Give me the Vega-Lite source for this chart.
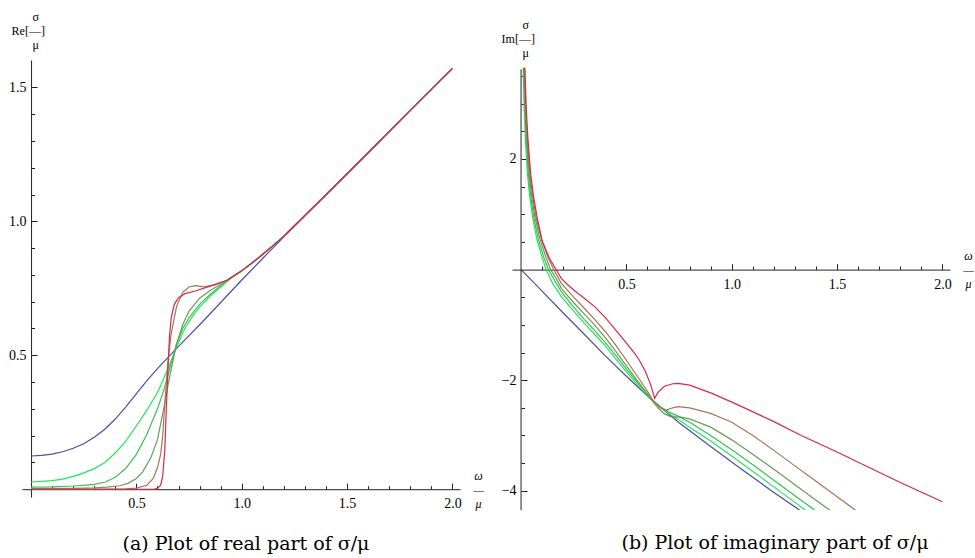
{
  "$schema": "https://vega.github.io/schema/vega-lite/v6.json",
  "background": "white",
  "padding": {"left": 8, "top": 10, "right": 0, "bottom": 0},
  "bounds": "flush",
  "spacing": 52,
  "config": {
    "view": {"stroke": null},
    "font": "Liberation Serif",
    "axis": {
      "labelFont": "Liberation Serif", "labelFontSize": 14, "labelColor": "#000",
      "domainColor": "#222", "tickColor": "#222", "grid": false,
      "titleFont": "Liberation Serif", "titleFontSize": 12, "titleFontWeight": "normal", "titleColor": "#000",
      "labelFlush": false, "labelOverlap": false
    }
  },
  "datasets": {
    "re": [
      {"curve": "c1", "w": 0, "v": 0.124}, {"curve": "c1", "w": 0.05, "v": 0.126}, {"curve": "c1", "w": 0.1, "v": 0.131}, {"curve": "c1", "w": 0.15, "v": 0.14}, {"curve": "c1", "w": 0.2, "v": 0.153}, {"curve": "c1", "w": 0.25, "v": 0.17}, {"curve": "c1", "w": 0.3, "v": 0.194}, {"curve": "c1", "w": 0.35, "v": 0.224}, {"curve": "c1", "w": 0.4, "v": 0.262}, {"curve": "c1", "w": 0.45, "v": 0.307}, {"curve": "c1", "w": 0.5, "v": 0.357}, {"curve": "c1", "w": 0.55, "v": 0.405}, {"curve": "c1", "w": 0.6, "v": 0.45}, {"curve": "c1", "w": 0.65, "v": 0.492}, {"curve": "c1", "w": 0.7, "v": 0.533}, {"curve": "c1", "w": 0.75, "v": 0.573}, {"curve": "c1", "w": 0.8, "v": 0.614}, {"curve": "c1", "w": 0.85, "v": 0.655}, {"curve": "c1", "w": 0.9, "v": 0.697}, {"curve": "c1", "w": 0.95, "v": 0.739}, {"curve": "c1", "w": 1.0, "v": 0.781}, {"curve": "c1", "w": 1.1, "v": 0.862}, {"curve": "c1", "w": 1.2, "v": 0.942}, {"curve": "c1", "w": 1.4, "v": 1.099}, {"curve": "c1", "w": 1.6, "v": 1.256}, {"curve": "c1", "w": 1.8, "v": 1.414}, {"curve": "c1", "w": 2.0, "v": 1.571},
      {"curve": "c2", "w": 0, "v": 0.027}, {"curve": "c2", "w": 0.05, "v": 0.029}, {"curve": "c2", "w": 0.1, "v": 0.032}, {"curve": "c2", "w": 0.15, "v": 0.038}, {"curve": "c2", "w": 0.2, "v": 0.048}, {"curve": "c2", "w": 0.25, "v": 0.061}, {"curve": "c2", "w": 0.3, "v": 0.077}, {"curve": "c2", "w": 0.35, "v": 0.1}, {"curve": "c2", "w": 0.4, "v": 0.135}, {"curve": "c2", "w": 0.45, "v": 0.18}, {"curve": "c2", "w": 0.5, "v": 0.237}, {"curve": "c2", "w": 0.55, "v": 0.295}, {"curve": "c2", "w": 0.6, "v": 0.36}, {"curve": "c2", "w": 0.65, "v": 0.45}, {"curve": "c2", "w": 0.69, "v": 0.53}, {"curve": "c2", "w": 0.73, "v": 0.6}, {"curve": "c2", "w": 0.77, "v": 0.65}, {"curve": "c2", "w": 0.8, "v": 0.68}, {"curve": "c2", "w": 0.85, "v": 0.72}, {"curve": "c2", "w": 0.9, "v": 0.755}, {"curve": "c2", "w": 0.95, "v": 0.787}, {"curve": "c2", "w": 1.0, "v": 0.815}, {"curve": "c2", "w": 1.05, "v": 0.845}, {"curve": "c2", "w": 1.1, "v": 0.877}, {"curve": "c2", "w": 1.15, "v": 0.91}, {"curve": "c2", "w": 1.2, "v": 0.944}, {"curve": "c2", "w": 1.4, "v": 1.099}, {"curve": "c2", "w": 1.6, "v": 1.256}, {"curve": "c2", "w": 1.8, "v": 1.414}, {"curve": "c2", "w": 2.0, "v": 1.571},
      {"curve": "c3", "w": 0, "v": 0.008}, {"curve": "c3", "w": 0.1, "v": 0.009}, {"curve": "c3", "w": 0.2, "v": 0.012}, {"curve": "c3", "w": 0.26, "v": 0.015}, {"curve": "c3", "w": 0.3, "v": 0.018}, {"curve": "c3", "w": 0.35, "v": 0.026}, {"curve": "c3", "w": 0.4, "v": 0.045}, {"curve": "c3", "w": 0.45, "v": 0.078}, {"curve": "c3", "w": 0.5, "v": 0.13}, {"curve": "c3", "w": 0.55, "v": 0.205}, {"curve": "c3", "w": 0.6, "v": 0.3}, {"curve": "c3", "w": 0.63, "v": 0.37}, {"curve": "c3", "w": 0.66, "v": 0.455}, {"curve": "c3", "w": 0.69, "v": 0.54}, {"curve": "c3", "w": 0.72, "v": 0.6}, {"curve": "c3", "w": 0.75, "v": 0.64}, {"curve": "c3", "w": 0.8, "v": 0.69}, {"curve": "c3", "w": 0.85, "v": 0.727}, {"curve": "c3", "w": 0.9, "v": 0.76}, {"curve": "c3", "w": 0.95, "v": 0.79}, {"curve": "c3", "w": 1.0, "v": 0.815}, {"curve": "c3", "w": 1.05, "v": 0.845}, {"curve": "c3", "w": 1.1, "v": 0.877}, {"curve": "c3", "w": 1.15, "v": 0.91}, {"curve": "c3", "w": 1.2, "v": 0.944}, {"curve": "c3", "w": 1.4, "v": 1.099}, {"curve": "c3", "w": 1.6, "v": 1.256}, {"curve": "c3", "w": 1.8, "v": 1.414}, {"curve": "c3", "w": 2.0, "v": 1.571},
      {"curve": "c4", "w": 0, "v": 0.002}, {"curve": "c4", "w": 0.2, "v": 0.003}, {"curve": "c4", "w": 0.3, "v": 0.005}, {"curve": "c4", "w": 0.36, "v": 0.008}, {"curve": "c4", "w": 0.42, "v": 0.013}, {"curve": "c4", "w": 0.46, "v": 0.022}, {"curve": "c4", "w": 0.5, "v": 0.04}, {"curve": "c4", "w": 0.53, "v": 0.065}, {"curve": "c4", "w": 0.57, "v": 0.12}, {"curve": "c4", "w": 0.6, "v": 0.185}, {"curve": "c4", "w": 0.627, "v": 0.29}, {"curve": "c4", "w": 0.66, "v": 0.43}, {"curve": "c4", "w": 0.69, "v": 0.54}, {"curve": "c4", "w": 0.72, "v": 0.615}, {"curve": "c4", "w": 0.75, "v": 0.665}, {"curve": "c4", "w": 0.8, "v": 0.713}, {"curve": "c4", "w": 0.85, "v": 0.742}, {"curve": "c4", "w": 0.9, "v": 0.765}, {"curve": "c4", "w": 0.95, "v": 0.79}, {"curve": "c4", "w": 1.0, "v": 0.815}, {"curve": "c4", "w": 1.05, "v": 0.845}, {"curve": "c4", "w": 1.1, "v": 0.877}, {"curve": "c4", "w": 1.15, "v": 0.91}, {"curve": "c4", "w": 1.2, "v": 0.944}, {"curve": "c4", "w": 1.4, "v": 1.099}, {"curve": "c4", "w": 1.6, "v": 1.256}, {"curve": "c4", "w": 1.8, "v": 1.414}, {"curve": "c4", "w": 2.0, "v": 1.571},
      {"curve": "c5", "w": 0, "v": 0}, {"curve": "c5", "w": 0.45, "v": 0.001}, {"curve": "c5", "w": 0.5, "v": 0.004}, {"curve": "c5", "w": 0.55, "v": 0.015}, {"curve": "c5", "w": 0.58, "v": 0.04}, {"curve": "c5", "w": 0.6, "v": 0.08}, {"curve": "c5", "w": 0.615, "v": 0.13}, {"curve": "c5", "w": 0.625, "v": 0.2}, {"curve": "c5", "w": 0.636, "v": 0.333}, {"curve": "c5", "w": 0.65, "v": 0.48}, {"curve": "c5", "w": 0.665, "v": 0.58}, {"curve": "c5", "w": 0.69, "v": 0.68}, {"curve": "c5", "w": 0.72, "v": 0.735}, {"curve": "c5", "w": 0.75, "v": 0.755}, {"curve": "c5", "w": 0.78, "v": 0.76}, {"curve": "c5", "w": 0.82, "v": 0.755}, {"curve": "c5", "w": 0.87, "v": 0.762}, {"curve": "c5", "w": 0.93, "v": 0.78}, {"curve": "c5", "w": 1.0, "v": 0.815}, {"curve": "c5", "w": 1.05, "v": 0.845}, {"curve": "c5", "w": 1.1, "v": 0.877}, {"curve": "c5", "w": 1.15, "v": 0.91}, {"curve": "c5", "w": 1.2, "v": 0.944}, {"curve": "c5", "w": 1.4, "v": 1.099}, {"curve": "c5", "w": 1.6, "v": 1.256}, {"curve": "c5", "w": 1.8, "v": 1.414}, {"curve": "c5", "w": 2.0, "v": 1.571},
      {"curve": "c6", "w": 0, "v": 0}, {"curve": "c6", "w": 0.58, "v": 0}, {"curve": "c6", "w": 0.6, "v": 0.003}, {"curve": "c6", "w": 0.615, "v": 0.015}, {"curve": "c6", "w": 0.625, "v": 0.05}, {"curve": "c6", "w": 0.635, "v": 0.15}, {"curve": "c6", "w": 0.642, "v": 0.3}, {"curve": "c6", "w": 0.65, "v": 0.45}, {"curve": "c6", "w": 0.657, "v": 0.57}, {"curve": "c6", "w": 0.665, "v": 0.64}, {"curve": "c6", "w": 0.68, "v": 0.69}, {"curve": "c6", "w": 0.7, "v": 0.715}, {"curve": "c6", "w": 0.73, "v": 0.73}, {"curve": "c6", "w": 0.78, "v": 0.74}, {"curve": "c6", "w": 0.85, "v": 0.758}, {"curve": "c6", "w": 0.93, "v": 0.78}, {"curve": "c6", "w": 1.0, "v": 0.815}, {"curve": "c6", "w": 1.05, "v": 0.845}, {"curve": "c6", "w": 1.1, "v": 0.877}, {"curve": "c6", "w": 1.15, "v": 0.91}, {"curve": "c6", "w": 1.2, "v": 0.944}, {"curve": "c6", "w": 1.4, "v": 1.099}, {"curve": "c6", "w": 1.6, "v": 1.256}, {"curve": "c6", "w": 1.8, "v": 1.414}, {"curve": "c6", "w": 2.0, "v": 1.571}
    ],
    "im": [
      {"curve": "c1", "w": 0, "v": 0}, {"curve": "c1", "w": 0.1, "v": -0.39}, {"curve": "c1", "w": 0.191, "v": -0.75}, {"curve": "c1", "w": 0.3, "v": -1.17}, {"curve": "c1", "w": 0.4, "v": -1.56}, {"curve": "c1", "w": 0.5, "v": -1.93}, {"curve": "c1", "w": 0.618, "v": -2.35}, {"curve": "c1", "w": 0.75, "v": -2.77}, {"curve": "c1", "w": 0.9, "v": -3.2}, {"curve": "c1", "w": 1.05, "v": -3.62}, {"curve": "c1", "w": 1.2, "v": -4.03}, {"curve": "c1", "w": 1.322, "v": -4.35},
      {"curve": "c2", "w": 0.01, "v": 3.65}, {"curve": "c2", "w": 0.015, "v": 2.9}, {"curve": "c2", "w": 0.02, "v": 2.4}, {"curve": "c2", "w": 0.03, "v": 1.75}, {"curve": "c2", "w": 0.04, "v": 1.35}, {"curve": "c2", "w": 0.055, "v": 0.95}, {"curve": "c2", "w": 0.075, "v": 0.55}, {"curve": "c2", "w": 0.1, "v": 0.22}, {"curve": "c2", "w": 0.119, "v": 0.0}, {"curve": "c2", "w": 0.15, "v": -0.25}, {"curve": "c2", "w": 0.191, "v": -0.49}, {"curve": "c2", "w": 0.25, "v": -0.75}, {"curve": "c2", "w": 0.3, "v": -0.97}, {"curve": "c2", "w": 0.349, "v": -1.17}, {"curve": "c2", "w": 0.4, "v": -1.38}, {"curve": "c2", "w": 0.45, "v": -1.62}, {"curve": "c2", "w": 0.5, "v": -1.85}, {"curve": "c2", "w": 0.55, "v": -2.07}, {"curve": "c2", "w": 0.6, "v": -2.28}, {"curve": "c2", "w": 0.62, "v": -2.36}, {"curve": "c2", "w": 0.65, "v": -2.45}, {"curve": "c2", "w": 0.7, "v": -2.6}, {"curve": "c2", "w": 0.75, "v": -2.72}, {"curve": "c2", "w": 0.8, "v": -2.85}, {"curve": "c2", "w": 0.9, "v": -3.1}, {"curve": "c2", "w": 1.0, "v": -3.37}, {"curve": "c2", "w": 1.1, "v": -3.65}, {"curve": "c2", "w": 1.2, "v": -3.93}, {"curve": "c2", "w": 1.3, "v": -4.21}, {"curve": "c2", "w": 1.349, "v": -4.35},
      {"curve": "c3", "w": 0.012, "v": 3.65}, {"curve": "c3", "w": 0.018, "v": 2.9}, {"curve": "c3", "w": 0.024, "v": 2.4}, {"curve": "c3", "w": 0.034, "v": 1.75}, {"curve": "c3", "w": 0.045, "v": 1.35}, {"curve": "c3", "w": 0.06, "v": 0.95}, {"curve": "c3", "w": 0.082, "v": 0.55}, {"curve": "c3", "w": 0.108, "v": 0.22}, {"curve": "c3", "w": 0.13, "v": 0.0}, {"curve": "c3", "w": 0.16, "v": -0.2}, {"curve": "c3", "w": 0.191, "v": -0.4}, {"curve": "c3", "w": 0.25, "v": -0.68}, {"curve": "c3", "w": 0.3, "v": -0.9}, {"curve": "c3", "w": 0.349, "v": -1.1}, {"curve": "c3", "w": 0.4, "v": -1.32}, {"curve": "c3", "w": 0.46, "v": -1.6}, {"curve": "c3", "w": 0.5, "v": -1.8}, {"curve": "c3", "w": 0.55, "v": -2.03}, {"curve": "c3", "w": 0.6, "v": -2.25}, {"curve": "c3", "w": 0.63, "v": -2.38}, {"curve": "c3", "w": 0.66, "v": -2.48}, {"curve": "c3", "w": 0.7, "v": -2.57}, {"curve": "c3", "w": 0.75, "v": -2.66}, {"curve": "c3", "w": 0.8, "v": -2.76}, {"curve": "c3", "w": 0.9, "v": -3.0}, {"curve": "c3", "w": 1.0, "v": -3.26}, {"curve": "c3", "w": 1.1, "v": -3.53}, {"curve": "c3", "w": 1.2, "v": -3.81}, {"curve": "c3", "w": 1.3, "v": -4.09}, {"curve": "c3", "w": 1.393, "v": -4.35},
      {"curve": "c4", "w": 0.014, "v": 3.65}, {"curve": "c4", "w": 0.02, "v": 2.9}, {"curve": "c4", "w": 0.027, "v": 2.4}, {"curve": "c4", "w": 0.038, "v": 1.75}, {"curve": "c4", "w": 0.05, "v": 1.35}, {"curve": "c4", "w": 0.066, "v": 0.95}, {"curve": "c4", "w": 0.09, "v": 0.55}, {"curve": "c4", "w": 0.118, "v": 0.22}, {"curve": "c4", "w": 0.14, "v": 0.0}, {"curve": "c4", "w": 0.17, "v": -0.18}, {"curve": "c4", "w": 0.191, "v": -0.34}, {"curve": "c4", "w": 0.25, "v": -0.6}, {"curve": "c4", "w": 0.3, "v": -0.8}, {"curve": "c4", "w": 0.349, "v": -1.0}, {"curve": "c4", "w": 0.4, "v": -1.23}, {"curve": "c4", "w": 0.45, "v": -1.48}, {"curve": "c4", "w": 0.5, "v": -1.74}, {"curve": "c4", "w": 0.55, "v": -2.0}, {"curve": "c4", "w": 0.59, "v": -2.2}, {"curve": "c4", "w": 0.62, "v": -2.36}, {"curve": "c4", "w": 0.65, "v": -2.5}, {"curve": "c4", "w": 0.68, "v": -2.61}, {"curve": "c4", "w": 0.71, "v": -2.66}, {"curve": "c4", "w": 0.76, "v": -2.67}, {"curve": "c4", "w": 0.8, "v": -2.7}, {"curve": "c4", "w": 0.9, "v": -2.85}, {"curve": "c4", "w": 1.0, "v": -3.08}, {"curve": "c4", "w": 1.1, "v": -3.34}, {"curve": "c4", "w": 1.2, "v": -3.61}, {"curve": "c4", "w": 1.3, "v": -3.89}, {"curve": "c4", "w": 1.4, "v": -4.17}, {"curve": "c4", "w": 1.465, "v": -4.35},
      {"curve": "c5", "w": 0.016, "v": 3.65}, {"curve": "c5", "w": 0.022, "v": 2.9}, {"curve": "c5", "w": 0.029, "v": 2.4}, {"curve": "c5", "w": 0.041, "v": 1.75}, {"curve": "c5", "w": 0.054, "v": 1.35}, {"curve": "c5", "w": 0.071, "v": 0.95}, {"curve": "c5", "w": 0.097, "v": 0.55}, {"curve": "c5", "w": 0.128, "v": 0.22}, {"curve": "c5", "w": 0.155, "v": 0.0}, {"curve": "c5", "w": 0.191, "v": -0.25}, {"curve": "c5", "w": 0.25, "v": -0.5}, {"curve": "c5", "w": 0.3, "v": -0.7}, {"curve": "c5", "w": 0.349, "v": -0.9}, {"curve": "c5", "w": 0.4, "v": -1.12}, {"curve": "c5", "w": 0.45, "v": -1.37}, {"curve": "c5", "w": 0.5, "v": -1.64}, {"curve": "c5", "w": 0.55, "v": -1.92}, {"curve": "c5", "w": 0.6, "v": -2.2}, {"curve": "c5", "w": 0.625, "v": -2.36}, {"curve": "c5", "w": 0.66, "v": -2.5}, {"curve": "c5", "w": 0.69, "v": -2.54}, {"curve": "c5", "w": 0.72, "v": -2.5}, {"curve": "c5", "w": 0.745, "v": -2.48}, {"curve": "c5", "w": 0.8, "v": -2.5}, {"curve": "c5", "w": 0.9, "v": -2.6}, {"curve": "c5", "w": 1.0, "v": -2.76}, {"curve": "c5", "w": 1.1, "v": -3.0}, {"curve": "c5", "w": 1.2, "v": -3.27}, {"curve": "c5", "w": 1.3, "v": -3.55}, {"curve": "c5", "w": 1.4, "v": -3.83}, {"curve": "c5", "w": 1.5, "v": -4.11}, {"curve": "c5", "w": 1.587, "v": -4.35},
      {"curve": "c6", "w": 0.018, "v": 3.65}, {"curve": "c6", "w": 0.025, "v": 2.9}, {"curve": "c6", "w": 0.032, "v": 2.4}, {"curve": "c6", "w": 0.045, "v": 1.75}, {"curve": "c6", "w": 0.058, "v": 1.35}, {"curve": "c6", "w": 0.076, "v": 0.95}, {"curve": "c6", "w": 0.1, "v": 0.52}, {"curve": "c6", "w": 0.135, "v": 0.2}, {"curve": "c6", "w": 0.166, "v": 0.0}, {"curve": "c6", "w": 0.191, "v": -0.16}, {"curve": "c6", "w": 0.22, "v": -0.27}, {"curve": "c6", "w": 0.25, "v": -0.37}, {"curve": "c6", "w": 0.3, "v": -0.52}, {"curve": "c6", "w": 0.349, "v": -0.67}, {"curve": "c6", "w": 0.4, "v": -0.87}, {"curve": "c6", "w": 0.429, "v": -1.0}, {"curve": "c6", "w": 0.47, "v": -1.19}, {"curve": "c6", "w": 0.508, "v": -1.365}, {"curve": "c6", "w": 0.54, "v": -1.52}, {"curve": "c6", "w": 0.56, "v": -1.63}, {"curve": "c6", "w": 0.59, "v": -1.84}, {"curve": "c6", "w": 0.615, "v": -2.08}, {"curve": "c6", "w": 0.634, "v": -2.33}, {"curve": "c6", "w": 0.65, "v": -2.22}, {"curve": "c6", "w": 0.68, "v": -2.11}, {"curve": "c6", "w": 0.72, "v": -2.065}, {"curve": "c6", "w": 0.745, "v": -2.058}, {"curve": "c6", "w": 0.8, "v": -2.09}, {"curve": "c6", "w": 0.906, "v": -2.24}, {"curve": "c6", "w": 1.014, "v": -2.42}, {"curve": "c6", "w": 1.2, "v": -2.75}, {"curve": "c6", "w": 1.33, "v": -3.0}, {"curve": "c6", "w": 1.5, "v": -3.3}, {"curve": "c6", "w": 1.647, "v": -3.57}, {"curve": "c6", "w": 1.8, "v": -3.85}, {"curve": "c6", "w": 2.0, "v": -4.2}
    ]
  },
  "hconcat": [
    {
      "width": 438,
      "height": 437,
      "data": {"name": "re"},
      "title": {"text": "(a) Plot of real part of σ/μ", "orient": "bottom", "font": "DejaVu Serif", "fontSize": 19, "fontWeight": "normal", "color": "#000", "offset": 25, "dx": 5},
      "layer": [
        {
          "mark": {"type": "line", "strokeWidth": 1.2, "clip": true},
          "encoding": {
            "x": {"field": "w", "type": "quantitative", "scale": {"domain": [-0.043, 2.036], "nice": false, "zero": false},
                  "axis": {"orient": "bottom", "offset": -7.8, "values": [0.5, 1, 1.5, 2], "format": ".1f", "tickSize": -6, "labelPadding": 13, "labelFont": "Liberation Serif", "labelFontSize": 14,
                           "title": ["ω", "—", "μ"], "titleX": 456, "titleY": -14, "titleAlign": "center", "titleBaseline": "middle", "titleAngle": 0, "titleLineHeight": 14, "titleFontStyle": "italic"}},
            "y": {"field": "v", "type": "quantitative", "scale": {"domain": [-0.029, 1.602], "nice": false, "zero": false},
                  "axis": {"orient": "left", "offset": -9.06, "values": [0.5, 1, 1.5], "format": ".1f", "tickSize": -6, "labelPadding": 11, "labelFont": "Liberation Serif", "labelFontSize": 14,
                           "title": ["\u200b\u00a0\u00a0\u00a0\u00a0\u00a0\u00a0\u00a0σ", "Re[—]", "\u200b\u00a0\u00a0\u00a0\u00a0\u00a0\u00a0\u00a0μ"], "titleX": -20, "titleY": -44, "titleAlign": "left", "titleBaseline": "middle", "titleAngle": 0, "titleLineHeight": 14}},
            "color": {"field": "curve", "type": "nominal", "scale": {"domain": ["c1", "c2", "c3", "c4", "c5", "c6"], "range": ["#4d4da8", "#1ee85a", "#3cbf55", "#6e9a55", "#a5755a", "#d42a50"]}, "legend": null}
          }
        },
        {
          "mark": {"type": "point", "opacity": 0},
          "encoding": {
            "x": {"datum": 0, "type": "quantitative", "scale": {"domain": [-0.043, 2.036], "nice": false, "zero": false},
                  "axis": {"orient": "bottom", "offset": -7.8, "values": [0.1, 0.2, 0.3, 0.4, 0.6, 0.7, 0.8, 0.9, 1.1, 1.2, 1.3, 1.4, 1.6, 1.7, 1.8, 1.9], "tickSize": -3.5, "labels": false, "domain": false, "title": null}},
            "y": {"datum": 0, "type": "quantitative", "scale": {"domain": [-0.029, 1.602], "nice": false, "zero": false},
                  "axis": {"orient": "left", "offset": -9.06, "values": [0.1, 0.2, 0.3, 0.4, 0.6, 0.7, 0.8, 0.9, 1.1, 1.2, 1.3, 1.4], "tickSize": -3.5, "labels": false, "domain": false, "title": null}}
          }
        }
      ],
      "resolve": {"axis": {"x": "independent", "y": "independent"}}
    },
    {
      "width": 438,
      "height": 450.1,
      "data": {"name": "im"},
      "title": {"text": "(b) Plot of imaginary part of σ/μ", "orient": "bottom", "font": "DejaVu Serif", "fontSize": 19, "fontWeight": "normal", "color": "#000", "offset": 23, "dx": 44},
      "layer": [
        {
          "mark": {"type": "line", "strokeWidth": 1.2, "clip": true},
          "encoding": {
            "x": {"field": "w", "type": "quantitative", "scale": {"domain": [-0.043, 2.036], "nice": false, "zero": false},
                  "axis": {"orient": "bottom", "offset": -240.5, "values": [0.5, 1, 1.5, 2], "format": ".1f", "tickSize": -6, "labelPadding": 14, "labelFont": "Liberation Serif", "labelFontSize": 14,
                           "title": ["ω", "—", "μ"], "titleX": 456, "titleY": -14, "titleAlign": "center", "titleBaseline": "middle", "titleAngle": 0, "titleLineHeight": 14, "titleFontStyle": "italic"}},
            "y": {"field": "v", "type": "quantitative", "scale": {"domain": [-4.35, 3.79], "nice": false, "zero": false},
                  "axis": {"orient": "left", "offset": -9.06, "values": [-4, -2, 2], "format": "d", "tickSize": -6, "labelPadding": 11, "domain": false, "labelFont": "Liberation Serif", "labelFontSize": 14,
                           "title": ["\u200b\u00a0\u00a0\u00a0\u00a0\u00a0\u00a0\u00a0σ", "Im[—]", "\u200b\u00a0\u00a0\u00a0\u00a0\u00a0\u00a0\u00a0μ"], "titleX": -20, "titleY": -36, "titleAlign": "left", "titleBaseline": "middle", "titleAngle": 0, "titleLineHeight": 14}},
            "color": {"field": "curve", "type": "nominal", "scale": {"domain": ["c1", "c2", "c3", "c4", "c5", "c6"], "range": ["#4d4da8", "#1ee85a", "#3cbf55", "#6e9a55", "#a5755a", "#d42a50"]}, "legend": null}
          }
        },
        {
          "mark": {"type": "point", "opacity": 0},
          "encoding": {
            "x": {"datum": 0, "type": "quantitative", "scale": {"domain": [-0.043, 2.036], "nice": false, "zero": false},
                  "axis": {"orient": "bottom", "offset": -240.5, "values": [0.1, 0.2, 0.3, 0.4, 0.6, 0.7, 0.8, 0.9, 1.1, 1.2, 1.3, 1.4, 1.6, 1.7, 1.8, 1.9], "tickSize": -3.5, "labels": false, "domain": false, "title": null}},
            "y": {"datum": 0, "type": "quantitative", "scale": {"domain": [-4.35, 3.79], "nice": false, "zero": false},
                  "axis": {"orient": "left", "offset": -9.06, "values": [-3.5, -3, -2.5, -1.5, -1, -0.5, 0.5, 1, 1.5, 2.5, 3, 3.5], "tickSize": -3.5, "labels": false, "domain": false, "title": null}}
          }
        },
        {
          "data": {"values": [{}]},
          "mark": {"type": "rule", "color": "#222", "strokeWidth": 1},
          "encoding": {
            "x": {"datum": 0, "type": "quantitative", "axis": null},
            "y": {"datum": -4.35, "type": "quantitative", "axis": null},
            "y2": {"datum": 3.62}
          }
        }
      ],
      "resolve": {"axis": {"x": "independent", "y": "independent"}}
    }
  ]
}
